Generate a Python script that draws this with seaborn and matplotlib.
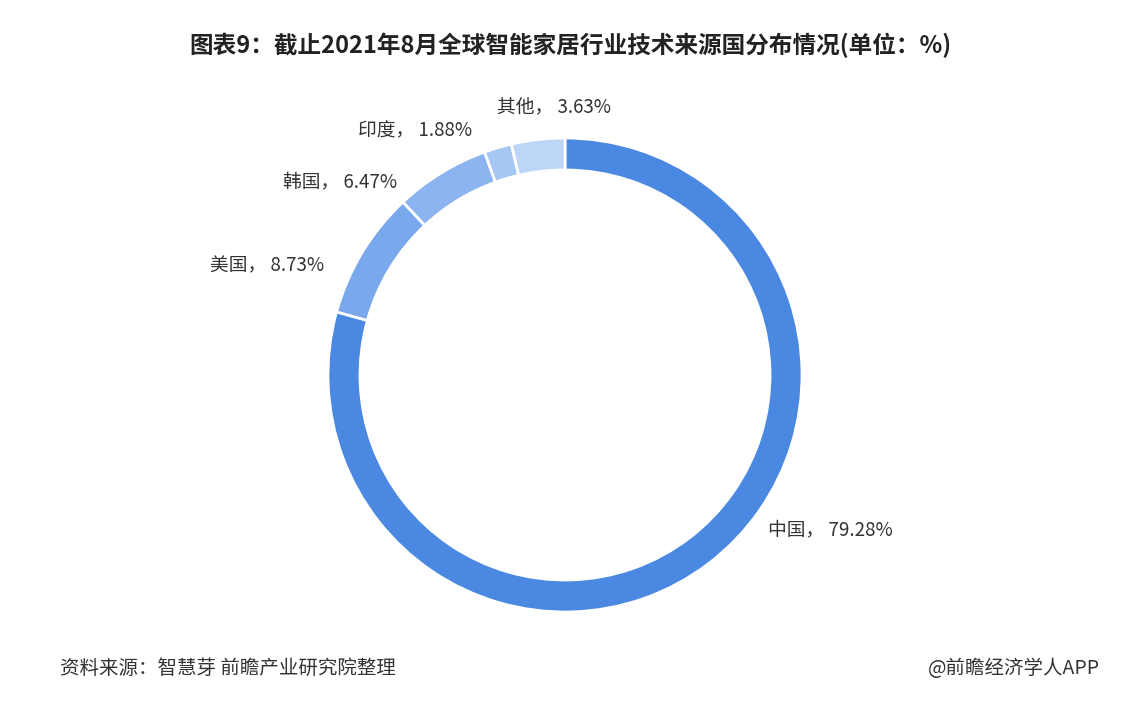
import matplotlib
matplotlib.use("Agg")
import matplotlib.pyplot as plt
import seaborn as sns

sns.set_theme(style="white")
plt.rcParams["font.family"] = "Noto Sans CJK SC"

categories = ["中国", "美国", "韩国", "印度", "其他"]
values = [79.28, 8.73, 6.47, 1.88, 3.63]
colors = ["#4a88e2", "#7aa8ec", "#8cb4f0", "#a6c6f4", "#bdd5f7"]
label_pos = [(768, 530), (210, 266), (283, 182), (358, 131), (497, 107)]

W, H = 1140, 702
fig = plt.figure(figsize=(W / 100, H / 100), dpi=100)
fig.patch.set_facecolor("white")

cx, cy, r = 565, 375, 237
ax = fig.add_axes([(cx - r) / W, (H - cy - r) / H, 2 * r / W, 2 * r / H])
ax.pie(values, colors=colors, startangle=90, counterclock=False, radius=1,
       wedgeprops=dict(width=0.135, edgecolor="white", linewidth=2))
ax.set_xlim(-1, 1)
ax.set_ylim(-1, 1)
ax.set_aspect("equal")
ax.axis("off")

for (x, y), c, v in zip(label_pos, categories, values):
    fig.text(x / W, 1 - y / H, f"{c}， {v:.2f}%", fontsize=13.5, color="#333333",
             ha="left", va="center")

fig.text(0.5, 1 - 45 / H, "图表9：截止2021年8月全球智能家居行业技术来源国分布情况(单位：%)",
         fontsize=17, fontweight="bold", ha="center", va="center", color="#222222")
fig.text(60 / W, 1 - 668 / H, "资料来源：智慧芽 前瞻产业研究院整理", fontsize=14,
         ha="left", va="center", color="#333333")
fig.text(1100 / W, 1 - 668 / H, "@前瞻经济学人APP", fontsize=14,
         ha="right", va="center", color="#333333")

fig.savefig("out.png", dpi=100, facecolor="white")
